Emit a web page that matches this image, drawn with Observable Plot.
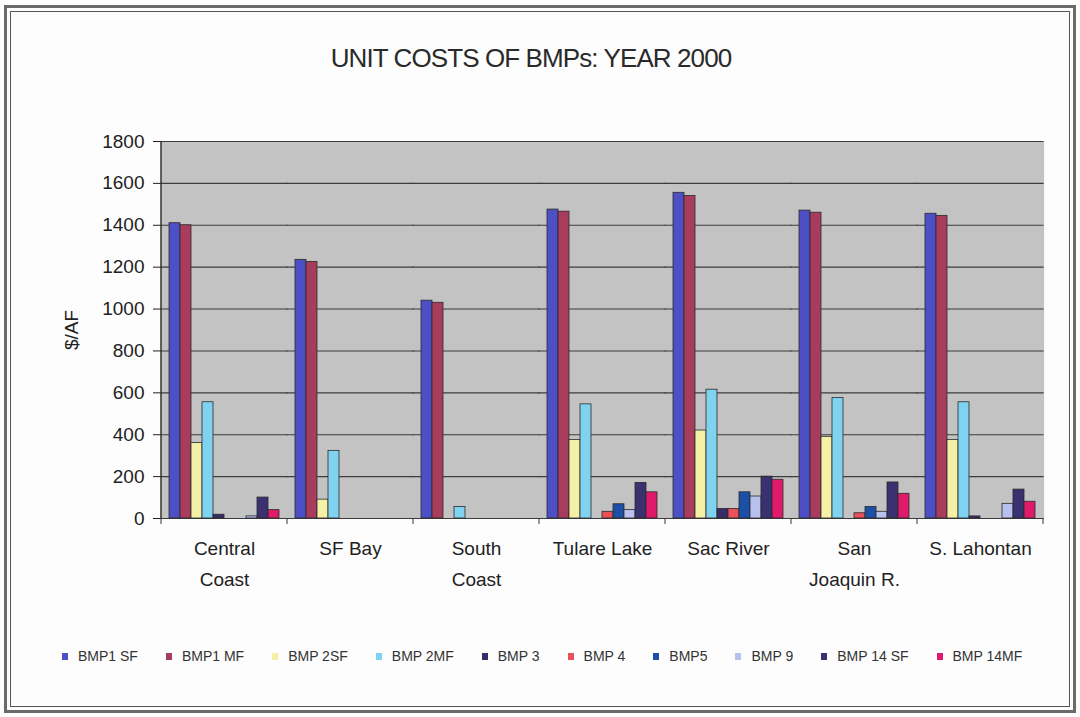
<!DOCTYPE html>
<html>
<head>
<meta charset="utf-8">
<script src="https://cdn.jsdelivr.net/npm/d3@7"></script>
<script src="https://cdn.jsdelivr.net/npm/@observablehq/plot@0.6"></script>
<style>
  html, body { margin: 0; padding: 0; background: #fdfdfd; }
  #page { position: relative; width: 1080px; height: 717px; background: #fdfdfd; overflow: hidden;
          font-family: "Liberation Sans", Arial, sans-serif; color: #222; }
  #outer { position: absolute; left: 4px; top: 5px; right: 4px; bottom: 4px; border: 3px solid #6a6a6a; }
  #inner { position: absolute; left: 10px; top: 11px; right: 10px; bottom: 10px; border: 1px solid #555; }
  #title { position: absolute; top: 43px; left: 0; width: 1062px; text-align: center;
           font-size: 26px; letter-spacing: -0.9px; color: #2a2a2a; }
  #chart { position: absolute; left: 0; top: 0; }
  #legend { position: absolute; top: 648px; left: 62px; display: flex; align-items: center;
            gap: 28px; font-size: 14px; color: #333; white-space: nowrap; }
  .item { display: flex; align-items: center; gap: 10px; }
  .sw { width: 6px; height: 7px; display: inline-block; }
</style>
</head>
<body>
<div id="page">
  <div id="outer"></div>
  <div id="inner"></div>
  <div id="title">UNIT COSTS OF BMPs: YEAR 2000</div>
  <div id="chart"></div>
  <div id="legend"></div>
</div>
<script>
// ---- data ----
const regions = ["Central Coast", "SF Bay", "South Coast", "Tulare Lake", "Sac River", "San Joaquin R.", "S. Lahontan"];
const regionLabels = ["Central\nCoast", "SF Bay", "South\nCoast", "Tulare Lake", "Sac River", "San\nJoaquin R.", "S. Lahontan"];
const series = ["BMP1 SF", "BMP1 MF", "BMP 2SF", "BMP 2MF", "BMP 3", "BMP 4", "BMP5", "BMP 9", "BMP 14 SF", "BMP 14MF"];
const colors = ["#4d50c4", "#a83c5c", "#f4f1a6", "#7fd2f0", "#3a2c66", "#e8505a", "#1c4fa6", "#b8c0ee", "#3a3270", "#e01a6a"];
const bmp1SF  = [1410, 1235, 1040, 1475, 1555, 1470, 1455];
const bmp1MF  = [1400, 1225, 1030, 1465, 1540, 1460, 1445];
const bmp2SF  = [360, 90, 0, 375, 420, 390, 375];
const bmp2MF  = [555, 323, 55, 545, 615, 575, 555];
const bmp3    = [18, 0, 0, 0, 45, 0, 10];
const bmp4    = [0, 0, 0, 32, 45, 25, 0];
const bmp5    = [0, 0, 0, 68, 125, 55, 0];
const bmp9    = [10, 0, 0, 40, 105, 32, 70];
const bmp14SF = [100, 0, 0, 170, 200, 172, 138];
const bmp14MF = [40, 0, 0, 125, 185, 118, 80];
const yTicks = [0, 200, 400, 600, 800, 1000, 1200, 1400, 1600, 1800];

const seriesValues = [bmp1SF, bmp1MF, bmp2SF, bmp2MF, bmp3, bmp4, bmp5, bmp9, bmp14SF, bmp14MF];
const rows = [];
series.forEach((s, si) => regions.forEach((r, ri) => {
  rows.push({region: r, series: s, value: seriesValues[si][ri]});
}));
const labelOf = new Map(regions.map((r, i) => [r, regionLabels[i]]));

const chart = Plot.plot({
  width: 1080,
  height: 620,
  marginLeft: 160,
  marginRight: 37,
  marginTop: 141,
  marginBottom: 102,
  style: {background: "none", fontFamily: "Liberation Sans, Arial, sans-serif", color: "#222"},
  fx: {domain: regions, padding: 0, label: null},
  x: {domain: series, paddingInner: 0, paddingOuter: 0.68, axis: null},
  y: {domain: [0, 1800], label: null},
  color: {domain: series, range: colors},
  marks: [
    Plot.frame({fill: "#c3c3c3", insetLeft: -0.6, insetRight: -0.6}),
    Plot.ruleY(yTicks, {stroke: "#3c3c3c", strokeWidth: 1.1, insetLeft: -0.6, insetRight: -0.6}),
    Plot.barY(rows, {fx: "region", x: "series", y: "value", fill: "series", stroke: "#2a2a2a", strokeWidth: 0.8}),
    Plot.axisY({ticks: yTicks, tickFormat: (d) => String(d), tickSize: 8, tickPadding: 9, fontSize: 19, label: "$/AF",
                labelAnchor: "center", labelOffset: 97, labelArrow: "none"}),
    Plot.axisFx({anchor: "bottom", tickSize: 0, tickPadding: 15, fontSize: 19, lineHeight: 1.63,
                 tickFormat: (r) => labelOf.get(r), label: null})
  ]
});

// axis line and group boundary ticks through the chart's scales
const ys = chart.scale("y"), fxs = chart.scale("fx");
const svg = d3.select(chart);
const y0 = ys.apply(0), y1 = ys.apply(1800);
const x0 = fxs.apply(regions[0]);
svg.append("line").attr("x1", x0).attr("x2", x0).attr("y1", y1).attr("y2", y0)
   .attr("stroke", "#333").attr("stroke-width", 1.5);
const bounds = regions.map(r => fxs.apply(r)).concat([fxs.apply(regions[regions.length - 1]) + fxs.bandwidth]);
bounds.forEach(b => svg.append("line").attr("x1", b).attr("x2", b).attr("y1", y0).attr("y2", y0 + 6)
   .attr("stroke", "#333").attr("stroke-width", 1));
document.getElementById("chart").appendChild(chart);

// legend
const legend = document.getElementById("legend");
series.forEach((s, i) => {
  const it = document.createElement("div");
  it.className = "item";
  const sw = document.createElement("span");
  sw.className = "sw";
  sw.style.background = colors[i];
  const tx = document.createElement("span");
  tx.textContent = s;
  it.appendChild(sw); it.appendChild(tx);
  legend.appendChild(it);
});
</script>
</body>
</html>
